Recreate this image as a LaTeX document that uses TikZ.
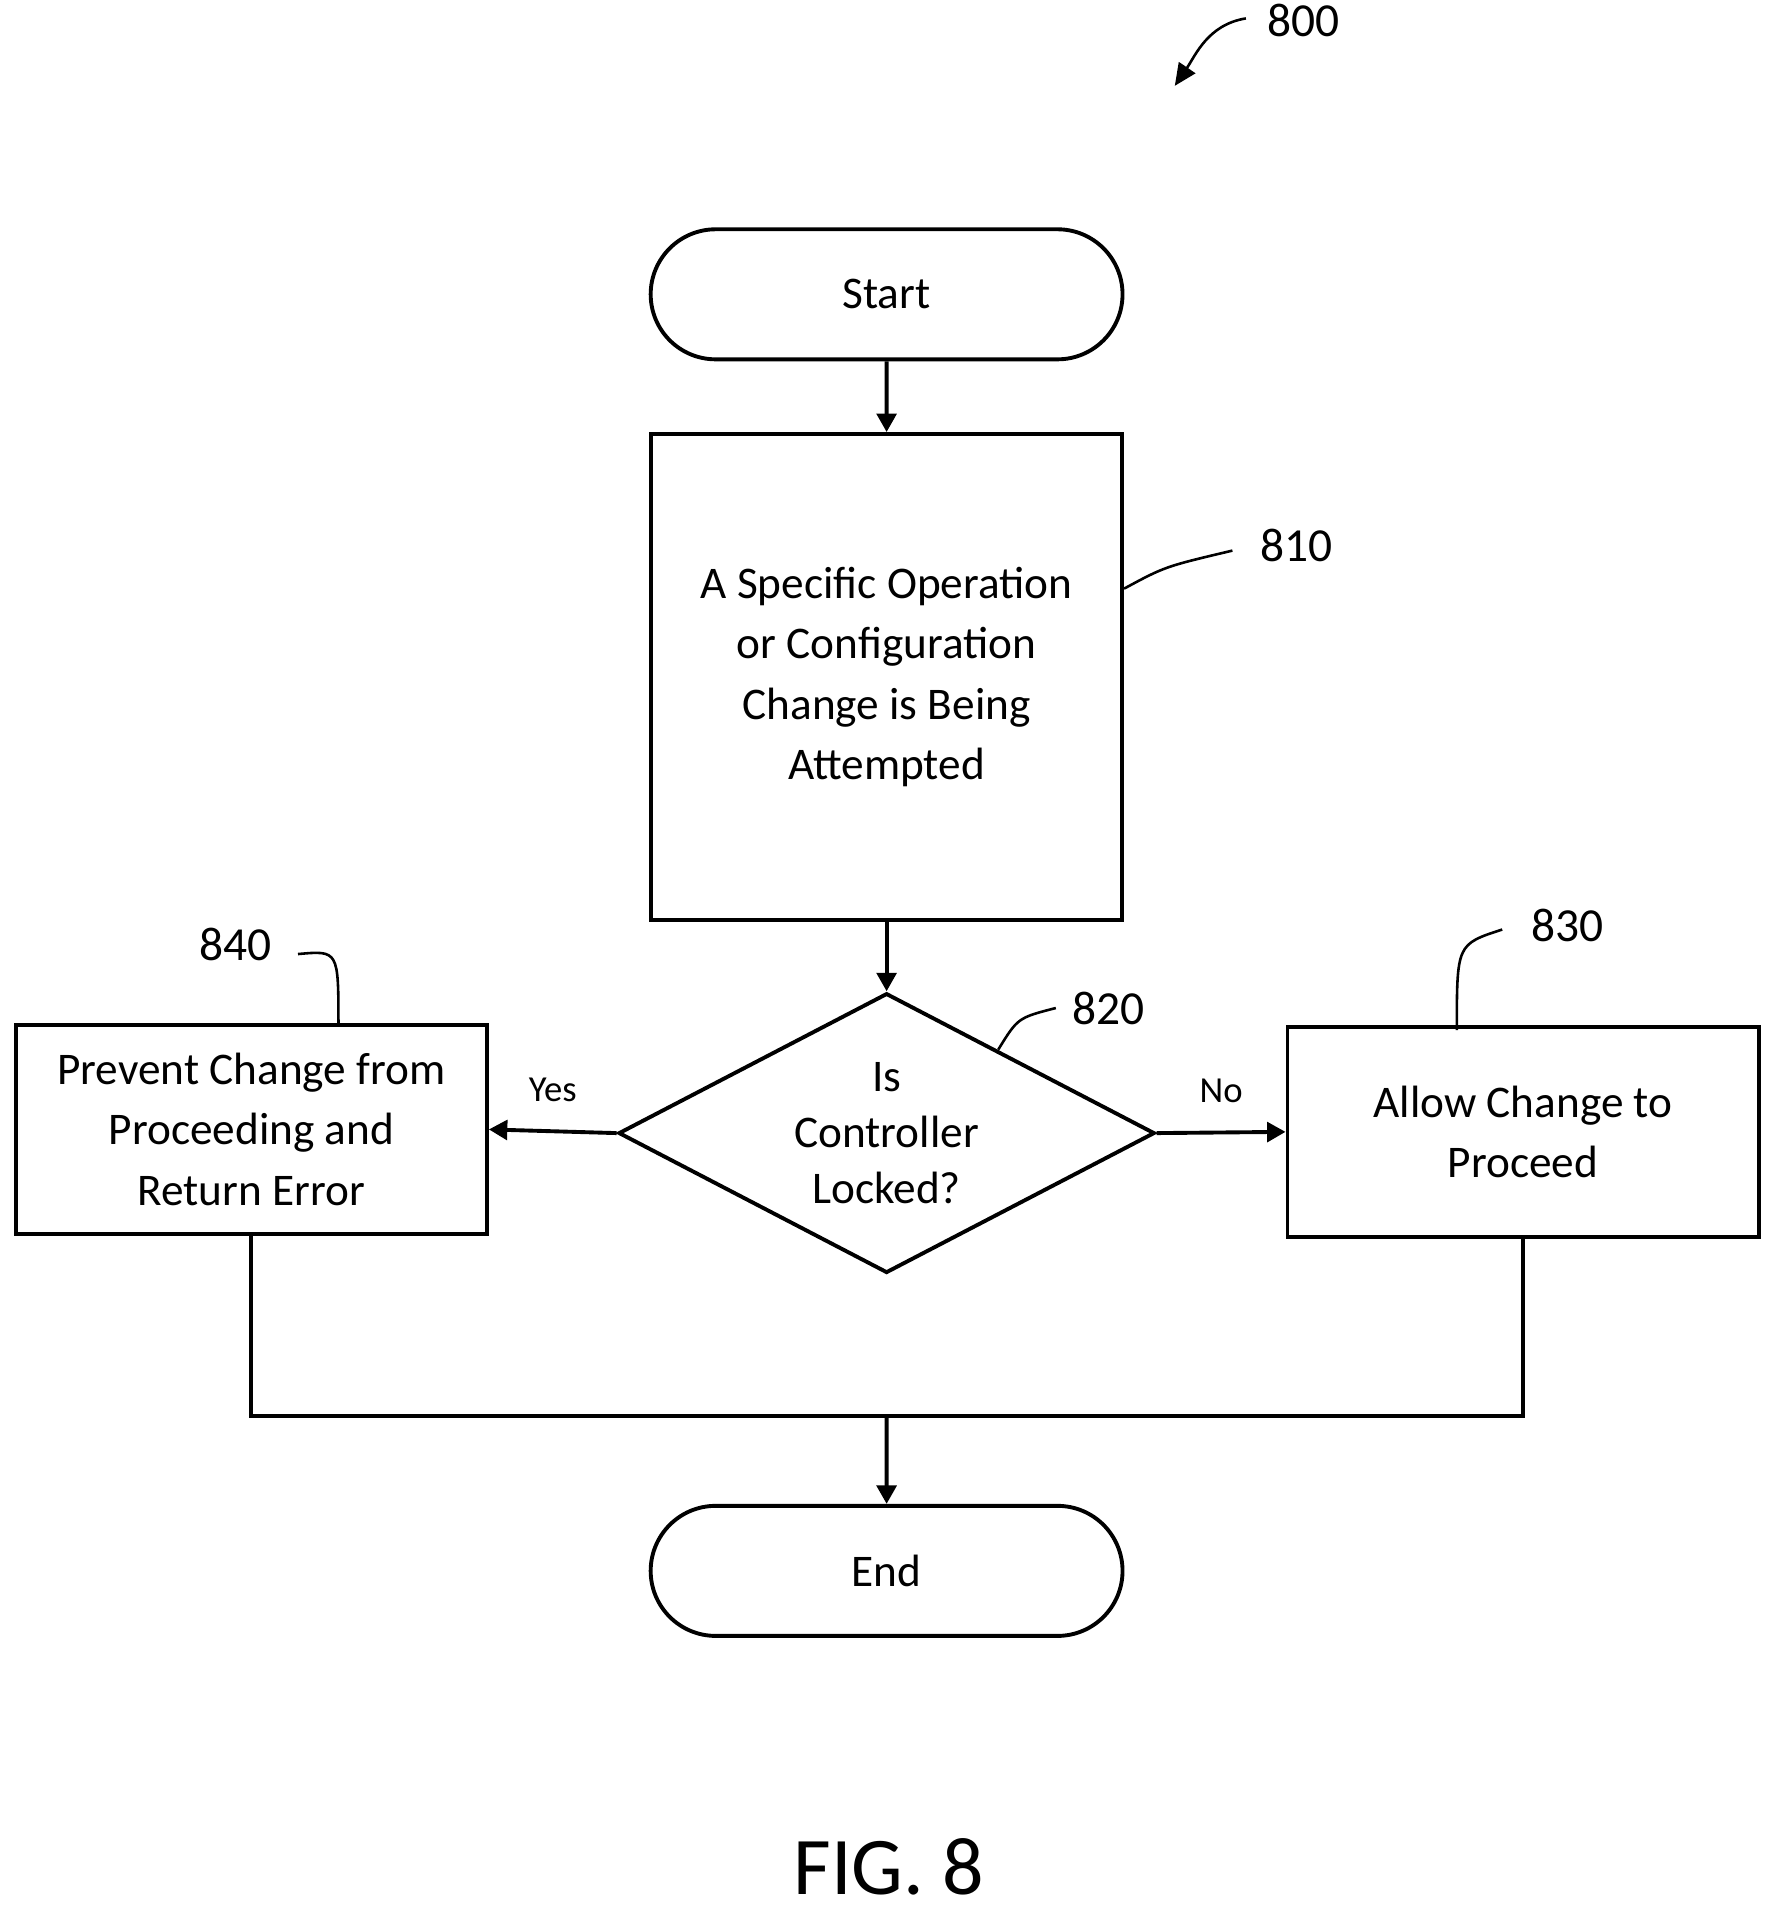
\documentclass[tikz,border=0pt]{standalone}
\usepackage{fontspec}
\setmainfont{Carlito}
\usetikzlibrary{arrows.meta, shapes.geometric, shapes.misc, positioning, calc}

\begin{document}
\begin{tikzpicture}[
    x=0.01cm, y=-0.01cm,
    every node/.style={font=\fontsize{10.5pt}{14pt}\selectfont},
    terminal/.style={rounded rectangle, draw, line width=0.9pt, minimum width=4.08cm, minimum height=1.06cm},
    process/.style={rectangle, draw, line width=0.9pt, minimum width=3.84cm, align=center},
    decision/.style={diamond, draw, line width=0.9pt, minimum width=4.37cm, minimum height=2.28cm, inner sep=-14pt, align=center, font=\fontsize{10.5pt}{13pt}\selectfont},
    ref_lbl/.style={font=\fontsize{11pt}{13pt}\selectfont},
    edge_lbl/.style={font=\fontsize{8.5pt}{10pt}\selectfont},
    arrow/.style={-{Triangle[length=1.5mm, width=1.6mm]}, line width=0.9pt},
    leader/.style={line width=0.6pt}
    ]
    \useasboundingbox (0,0) rectangle (1445,1560);

    % Nodes
    \node[terminal] (start) at (723,240) {Start};
    \node[process, minimum height=3.96cm] (attempt) at (723,552)
        {A Specific Operation\\or Configuration\\Change is Being\\Attempted};
    \node[decision] (locked) at (723,924) {Is\\Controller\\Locked?};
    \node[process, minimum height=1.70cm] (prevent) at (205,921)
        {Prevent Change from\\Proceeding and\\Return Error};
    \node[process, minimum height=1.71cm] (allow) at (1242,923)
        {Allow Change to\\Proceed};
    \node[terminal] (end) at (723,1281) {End};
    \coordinate (merge) at (723,1155);

    % Edges
    \draw[arrow] (start) -- (attempt);
    \draw[arrow] (attempt) -- (locked);
    \draw[arrow] (locked.west) -- (prevent.east) node[edge_lbl, midway, above=3pt] {Yes};
    \draw[arrow] (locked.east) -- (allow.west) node[edge_lbl, midway, above=3pt] {No};
    \draw[line width=0.9pt] (prevent.south) |- (merge) -| (allow.south);
    \draw[arrow] (merge) -- (end);

    % Reference numerals
    \node[ref_lbl] (n800) at (1063,17) {800};
    \draw[leader, -{Triangle[length=1.8mm, width=1.6mm]}] (1016,15) .. controls (985,20) and (975,45) .. (958,70);
    \node[ref_lbl] (n810) at (1057,445) {810};
    \draw[leader] (attempt.east |- 0,480) .. controls (950,462) .. (1005,449);
    \node[ref_lbl] (n820) at (904,822) {820};
    \draw[leader] (814,856) .. controls (830,830) .. (861,822);
    \node[ref_lbl] (n830) at (1278,755) {830};
    \draw[leader] (1188,840) .. controls (1188,770) .. (1225,758);
    \node[ref_lbl] (n840) at (192,770) {840};
    \draw[leader] (243,778) .. controls (276,775) .. (276,836);

    \node[font=\fontsize{19pt}{22pt}\selectfont] (fig) at (725,1522) {FIG. 8};
\end{tikzpicture}
\end{document}
